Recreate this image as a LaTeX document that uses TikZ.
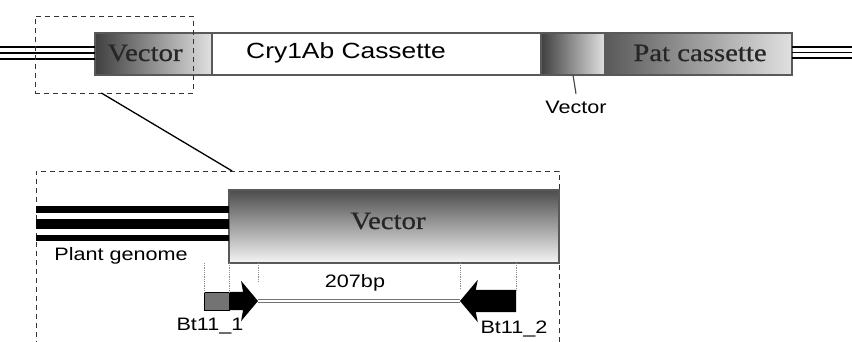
\documentclass[tikz,border=0pt]{standalone}
\usepackage{fontspec}
\usepackage{tikz}
\usetikzlibrary{positioning, shapes.arrows, calc}
\newfontfamily\labelfont{Liberation Sans}[FakeStretch=1.2]
\newfontfamily\boxfont{Liberation Serif}[FakeStretch=1.15, FakeBold=0.6]

\begin{document}
\begin{tikzpicture}[
      x=1pt, y=-1pt,
      every node/.style={inner sep=0pt, outer sep=0pt},
      segment/.style={rectangle, draw=black!65, line width=1.2pt, minimum height=42pt},
      shaded/.style={segment, left color=black!75, right color=black!12},
      boxtext/.style={font=\boxfont\fontsize{25}{27}\selectfont, text=black!85},
      dashbox/.style={rectangle, draw=black!80, line width=0.9pt, dash pattern=on 5pt off 4pt},
      genome/.style={black, line width=1.5pt},
      guide/.style={black!45, densely dotted, line width=0.8pt},
      tag/.style={font=\labelfont\fontsize{18}{20}\selectfont},
      primer/.style={single arrow, fill=black, inner xsep=0pt, single arrow tip angle=100,
        single arrow head indent=2pt}
    ]
      \clip (0,0) rectangle (852,342);
      \fill[white] (0,0) rectangle (852,342);

      \node[shaded, minimum width=117pt] (vecA) at (153.5,54) {};
      \node[segment, fill=white, minimum width=329pt, right=0pt of vecA] (cry) {};
      \node[shaded, minimum width=64pt, right=0pt of cry] (vecB) {};
      \node[shaded, minimum width=187pt, right=0pt of vecB, left color=black!65] (pat) {};
      \node[boxtext] (vecAlbl) at (145,53) {Vector};
      \node[font=\labelfont\fontsize{22}{24}\selectfont] (crylbl) at (346,53) {Cry1Ab Cassette};
      \node[boxtext] (patlbl) at (700,53) {Pat cassette};
      \foreach \dy in {7,1,-5}
        \draw[genome] ([yshift=\dy pt]vecA.west) -- ++(-100,0);
      \foreach \dy in {7,1.5,-4}
        \draw[genome] ([yshift=\dy pt]pat.east) -- ++(70,0);

      \node[tag] (veclbl) at (576,107) {Vector};
      \draw[black!70, line width=1.2pt] (vecB.south) -- ([yshift=7pt]veclbl.north);

      \node[dashbox, minimum width=158pt, minimum height=77pt] (zoomA) at (114,54.5) {};
      \node[dashbox, minimum width=523pt, minimum height=188pt] (zoomB) at (297.5,265) {};
      \draw[black, line width=1.3pt] ($(zoomA.south west)!0.42!(zoomA.south east)$)
        -- ($(zoomB.north west)!0.375!(zoomB.north east)$);

      \node[segment, minimum width=330pt, minimum height=73pt, top color=black!70,
        bottom color=black!4] (vecC) at (394,226.5) {};
      \node[boxtext] (vecClbl) at (388,221) {Vector};
      \draw[black, line width=7pt] ([yshift=17pt]vecC.west) -- ++(-193,0);
      \draw[black, line width=10pt] ([yshift=3pt]vecC.west) -- ++(-193,0);
      \draw[black, line width=6pt] ([yshift=-11.5pt]vecC.west) -- ++(-193,0);
      \node[tag] (plant) at (121,256) {Plant genome};

      \node[primer, anchor=tail, inner ysep=9pt, single arrow head extend=11pt,
        minimum height=29pt] (bt1) at (229,301) {};
      \node[rectangle, fill=black!55, draw=black, line width=0.8pt, minimum width=25pt,
        minimum height=18pt, anchor=east] (bt1box) at (bt1.tail) {};
      \node[primer, anchor=tail, shape border rotate=180, inner ysep=11pt,
        single arrow head extend=10pt, minimum height=56pt] (bt2) at (516,301) {};
      \draw[black!55, line width=1.2pt, double=white, double distance=2pt] (bt1.tip) -- (bt2.tip);
      \node[tag] (amp) at (355,283) {207bp};

      \draw[guide] (vecC.south -| bt1box.west) -- (bt1box.north west);
      \draw[guide] (vecC.south -| bt1.tail) -- (bt1box.north east);
      \draw[guide] (vecC.south -| bt1.tip) -- ++(0,19);
      \draw[guide] (vecC.south -| bt2.tip) -- ++(0,27);
      \draw[guide] (vecC.south -| bt2.tail) -- ++(0,28);

      \node[tag] (bt1lbl) at (210,326) {Bt11\_1};
      \node[tag] (bt2lbl) at (514,329) {Bt11\_2};
    \end{tikzpicture}
\end{document}
